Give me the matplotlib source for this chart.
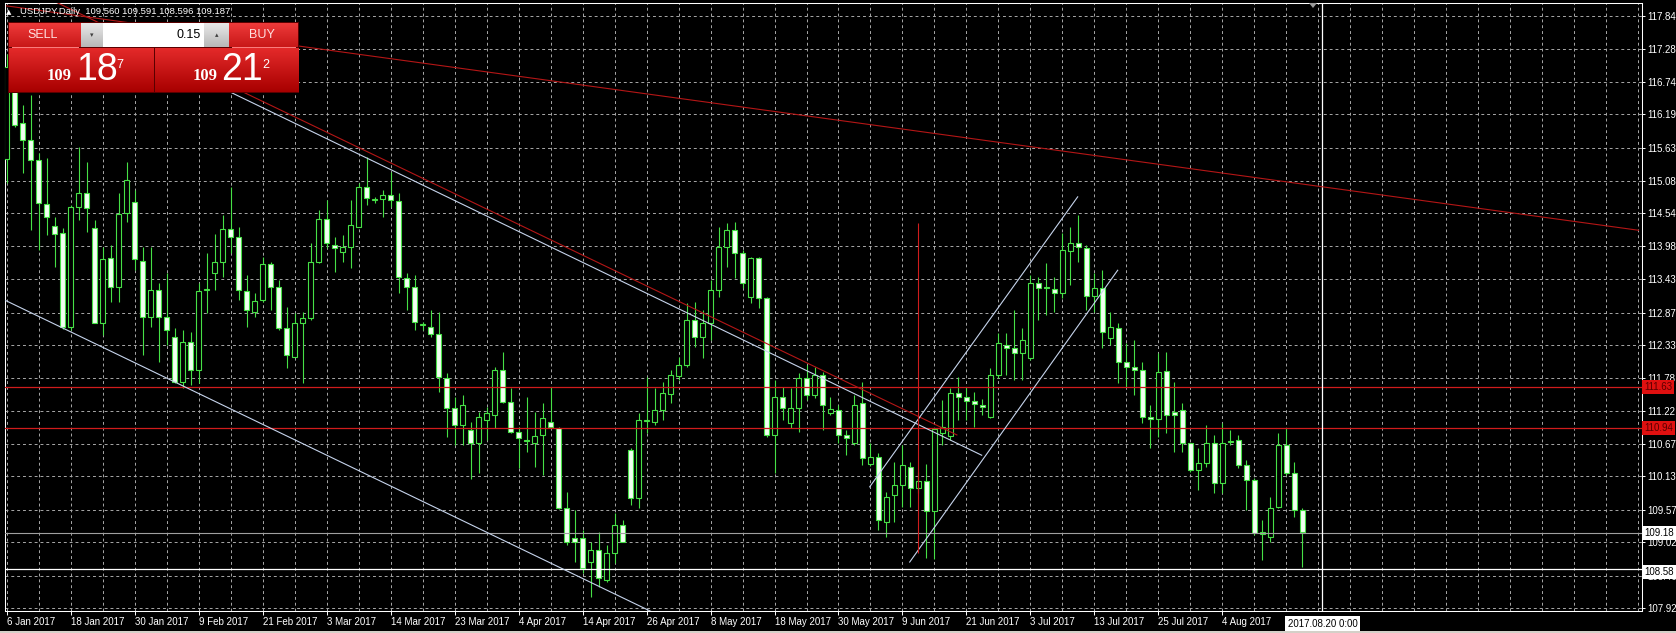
import numpy as np
import matplotlib.pyplot as plt
import matplotlib.colors as mcolors
from matplotlib.patches import Rectangle, Polygon

plt.rcParams['font.family'] = ['Liberation Sans', 'DejaVu Sans']

W, H = 1676, 633

# USDJPY daily bars, 6 Jan 2017 .. 18 Aug 2017 (feed has two short Sunday bars in March)
opens = [115.45, 116.98, 116.05, 115.76, 115.43, 114.69, 114.32, 114.20, 112.63, 114.64,
         114.87, 114.29, 112.70, 113.78, 113.30, 114.54, 114.72, 113.73, 112.80, 113.25,
         112.80, 112.46, 111.71, 112.38, 111.91, 113.25, 113.53, 113.72, 114.27, 114.14,
         113.23, 112.88, 113.08, 113.68, 113.30, 112.61, 112.13, 112.70, 112.78, 113.72,
         114.44, 114.00, 113.88, 113.97, 114.30, 114.97, 114.75, 114.77, 114.84, 114.74,
         113.45, 113.30, 112.66, 112.63, 112.51, 111.77, 111.27, 110.99, 110.90, 110.68,
         111.07, 111.15, 111.91, 111.37, 110.87, 110.74, 110.68, 110.82, 111.04, 110.94,
         109.60, 109.10, 109.10, 108.69, 108.89, 108.39, 108.84, 109.31, 110.57, 109.77,
         111.05, 111.04, 111.24, 111.50, 111.80, 111.99, 112.75, 112.46, 112.70, 113.25,
         113.97, 114.25, 113.87, 113.13, 113.78, 113.11, 110.82, 111.46, 111.02, 111.27,
         111.77, 111.49, 111.83, 111.19, 111.24, 110.82, 110.68, 111.35, 110.34, 110.45,
         109.36, 109.81, 109.98, 110.29, 109.93, 110.05, 109.55, 110.85, 110.80, 111.52,
         111.46, 111.39, 111.32, 111.12, 111.83, 112.33, 112.28, 112.19, 112.11, 113.37,
         113.30, 113.27, 113.20, 113.90, 114.04, 113.95, 113.15, 113.28, 112.45, 112.61,
         112.04, 111.96, 111.91, 111.12, 111.09, 111.89, 111.20, 111.24, 110.69, 110.23,
         110.35, 110.69, 110.02, 110.70, 110.74, 110.32, 110.07, 109.16, 109.11, 109.62,
         110.65, 110.18, 109.56]
highs = [117.20, 117.20, 116.35, 116.52, 115.55, 115.46, 114.47, 114.29, 114.67, 115.65,
         115.40, 114.42, 113.97, 114.00, 114.87, 115.40, 114.92, 113.97, 113.97, 113.37,
         113.53, 112.61, 112.58, 112.55, 113.37, 113.87, 114.19, 114.50, 114.97, 114.30,
         113.50, 113.20, 113.80, 113.72, 113.42, 112.96, 112.86, 112.88, 114.03, 114.59,
         114.76, 114.14, 114.17, 114.76, 115.04, 115.48, 114.81, 114.93, 115.22, 114.87,
         113.53, 113.50, 112.71, 112.91, 112.88, 111.86, 111.46, 111.49, 111.03, 111.20,
         111.29, 111.96, 112.21, 111.61, 110.95, 111.46, 111.20, 111.35, 111.62, 110.95,
         109.87, 109.56, 109.23, 109.02, 109.19, 108.97, 109.51, 109.40, 110.60, 111.19,
         111.79, 111.61, 111.71, 111.91, 112.13, 113.03, 113.05, 112.91, 113.42, 114.30,
         114.37, 114.39, 113.92, 113.80, 113.80, 113.13, 111.74, 111.63, 111.60, 111.86,
         111.99, 111.96, 111.88, 111.46, 111.32, 110.90, 111.49, 111.71, 110.68, 110.52,
         109.87, 110.37, 110.65, 110.37, 110.20, 110.34, 110.94, 111.41, 111.61, 111.79,
         111.62, 111.54, 111.42, 111.94, 112.53, 112.53, 112.91, 112.61, 113.50, 113.47,
         113.70, 113.47, 114.20, 114.30, 114.50, 114.00, 113.53, 113.58, 112.88, 112.70,
         112.36, 112.41, 112.04, 111.32, 112.19, 112.21, 111.71, 111.36, 110.69, 110.60,
         110.99, 110.82, 111.02, 110.90, 110.82, 110.40, 110.10, 109.40, 109.78, 110.85,
         110.94, 110.37, 109.59]
lows = [115.05, 115.98, 115.21, 114.25, 113.92, 114.17, 113.63, 112.60, 112.58, 114.42,
        114.22, 112.70, 112.50, 113.05, 113.05, 114.39, 113.58, 112.16, 112.63, 112.04,
        112.33, 111.69, 111.61, 111.66, 111.69, 112.86, 113.25, 113.47, 113.87, 113.08,
        112.63, 112.80, 113.05, 112.91, 112.58, 111.94, 112.13, 111.69, 112.74, 113.70,
        113.95, 113.55, 113.72, 113.62, 114.30, 114.67, 114.70, 114.47, 114.64, 113.20,
        112.91, 112.58, 112.58, 112.46, 111.54, 110.79, 110.65, 110.65, 110.09, 110.18,
        110.74, 110.94, 111.35, 110.85, 110.27, 110.54, 110.29, 110.15, 110.94, 109.58,
        108.97, 108.69, 108.50, 108.10, 108.27, 108.36, 108.67, 109.02, 109.65, 109.60,
        110.85, 110.99, 111.07, 111.35, 111.74, 111.96, 112.29, 112.11, 112.41, 113.13,
        113.63, 113.45, 113.28, 113.03, 112.94, 110.79, 110.18, 111.07, 110.94, 110.87,
        111.40, 111.44, 110.90, 111.15, 110.68, 110.49, 110.65, 110.31, 110.30, 109.22,
        109.11, 109.36, 109.61, 109.61, 109.85, 108.76, 108.74, 110.65, 110.74, 111.07,
        111.07, 110.95, 111.15, 111.10, 111.78, 111.83, 111.74, 111.74, 112.08, 112.74,
        112.83, 112.88, 113.12, 113.33, 113.72, 112.91, 112.88, 112.28, 112.33, 111.69,
        111.62, 111.49, 111.02, 110.60, 110.79, 110.85, 110.54, 110.54, 110.20, 109.90,
        110.28, 109.85, 109.85, 110.65, 110.27, 109.56, 109.14, 108.73, 109.03, 109.60,
        110.15, 109.44, 108.60]
closes = [116.98, 116.01, 115.76, 115.43, 114.71, 114.47, 114.19, 112.63, 114.64, 114.87,
          114.62, 112.70, 113.77, 113.30, 114.52, 115.09, 113.77, 112.80, 113.25, 112.80,
          112.58, 111.71, 112.38, 111.91, 113.23, 113.27, 113.72, 114.27, 114.14, 113.25,
          112.91, 113.06, 113.68, 113.30, 112.61, 112.16, 112.70, 112.78, 113.72, 114.44,
          114.03, 113.95, 113.97, 114.34, 114.97, 114.79, 114.77, 114.84, 114.76, 113.47,
          113.30, 112.71, 112.66, 112.51, 111.79, 111.27, 110.99, 111.32, 110.68, 111.12,
          111.19, 111.91, 111.37, 110.87, 110.77, 110.72, 110.80, 111.10, 110.95, 109.60,
          109.03, 109.03, 108.59, 108.89, 108.42, 108.84, 109.31, 109.03, 109.77, 111.07,
          111.07, 111.24, 111.52, 111.83, 111.99, 112.75, 112.46, 112.70, 113.25, 113.97,
          114.25, 113.87, 113.37, 113.78, 113.11, 110.82, 111.46, 111.27, 111.27, 111.77,
          111.49, 111.83, 111.32, 111.25, 110.82, 110.77, 111.32, 110.43, 110.45, 109.39,
          109.78, 109.98, 110.32, 109.93, 110.05, 109.55, 110.92, 110.95, 111.52, 111.46,
          111.39, 111.34, 111.29, 111.83, 112.36, 112.28, 112.19, 112.41, 113.37, 113.28,
          113.28, 113.20, 113.92, 114.04, 113.97, 113.15, 113.28, 112.55, 112.63, 112.04,
          111.96, 111.91, 111.12, 111.09, 111.88, 111.15, 111.15, 110.69, 110.23, 110.35,
          110.69, 110.02, 110.69, 110.71, 110.32, 110.07, 109.18, 109.19, 109.60, 110.65,
          110.18, 109.56, 109.19]

date_labels = ['6 Jan 2017', '18 Jan 2017', '30 Jan 2017', '9 Feb 2017', '21 Feb 2017',
               '3 Mar 2017', '14 Mar 2017', '23 Mar 2017', '4 Apr 2017', '14 Apr 2017',
               '26 Apr 2017', '8 May 2017', '18 May 2017', '30 May 2017', '9 Jun 2017',
               '21 Jun 2017', '3 Jul 2017', '13 Jul 2017', '25 Jul 2017', '4 Aug 2017']
price_ticks = [117.84, 117.28, 116.74, 116.19, 115.63, 115.08, 114.54, 113.98, 113.43, 112.87,
               112.33, 111.78, 111.22, 110.67, 110.13, 109.57, 109.02, 108.46, 107.92]

level_lines = [111.63, 110.94]
bid_price = 109.18
cross_price = 108.58
cross_bar = 164.5
cross_label = '2017.08.20 0:00'

# drawn objects as (bar index, price) end points
red_long = ([0, 204], [118.01, 114.25])
red_steep = ([5.6, 118.8], [118.11, 110.82])
chan_down_top = ([27.9, 121.9], [116.57, 110.48])
chan_down_bot = ([-1, 82], [113.13, 107.77])
chan_up_top = ([107.9, 133.9], [109.95, 114.81])
chan_up_bot = ([112.9, 138.9], [108.69, 113.58])
red_vline = (114.0, 108.84, 114.37)

GREEN = '#46e046'
GRID = '#a8a8a8'
RED = '#d01c1c'
DRED = '#b41616'
LIGHT = '#c6d4ec'

fig = plt.figure(figsize=(W / 100, H / 100), dpi=100, facecolor='black')
ax = fig.add_axes([5 / W, 22 / H, 1637 / W, 608 / H], facecolor='black')

o = np.array(opens); hi = np.array(highs); lo = np.array(lows); c = np.array(closes)
x = np.arange(len(o))
up = c >= o
body_lo = np.minimum(o, c)
body_h = np.maximum(np.abs(c - o), 0.012)

ax.vlines(x, lo, hi, color=GREEN, lw=0.8, zorder=3)
ax.bar(x[up], body_h[up], bottom=body_lo[up], width=0.58, facecolor='black',
       edgecolor=GREEN, lw=0.8, zorder=3.5)
ax.bar(x[~up], body_h[~up], bottom=body_lo[~up], width=0.58, facecolor='#f2fff2',
       edgecolor=GREEN, lw=0.8, zorder=3.5)

# objects
for p in level_lines:
    ax.axhline(p, color=RED, lw=0.9, zorder=4)
ax.axhline(bid_price, color='#a0a0a0', lw=0.8, zorder=4)
ax.axhline(cross_price, color='white', lw=0.9, zorder=4)
ax.axvline(cross_bar, color='white', lw=0.9, zorder=4)
ax.plot(*red_long, color=DRED, lw=0.8, zorder=4)
ax.plot(*red_steep, color=DRED, lw=0.8, zorder=4)
for ln in (chan_down_top, chan_down_bot, chan_up_top, chan_up_bot):
    ax.plot(*ln, color=LIGHT, lw=0.8, zorder=4)
ax.vlines(red_vline[0], red_vline[1], red_vline[2], color=RED, lw=0.8, zorder=4)

ax.set_xlim(-0.19, 204.44)
ax.set_ylim(107.87, 118.058)

# grid and axes
ax.set_axisbelow(True)
ax.set_xticks(np.arange(0, 205, 4), minor=True)
ax.set_xticks(np.arange(0, 8 * len(date_labels), 8))
ax.set_xticklabels(date_labels)
for t in ax.get_xticklabels():
    t.set_ha('left')
ax.yaxis.tick_right()
ax.set_yticks(price_ticks)
ax.set_yticklabels([f'{p:.2f}' for p in price_ticks])
ax.grid(True, which='both', axis='x', color=GRID, lw=0.7, ls=(0, (3, 3)))
ax.grid(True, which='major', axis='y', color=GRID, lw=0.7, ls=(0, (3, 3)))
ax.tick_params(axis='x', which='minor', length=0)
ax.tick_params(axis='x', which='major', length=3, width=0.7, color='white',
               labelcolor='white', labelsize=7, pad=1.5)
ax.tick_params(axis='y', length=2.5, width=0.7, color='white', labelcolor='white',
               labelsize=7, pad=1.5)
for s in ax.spines.values():
    s.set_color('white')
    s.set_linewidth(0.75)

# price labels of the line objects
box = dict(boxstyle='square,pad=0.2', ec='none')
for p in level_lines:
    ax.annotate(f'{p:.2f}', xy=(1, p), xycoords=ax.get_yaxis_transform(), xytext=(1.5, 0),
                textcoords='offset points', va='center', ha='left', fontsize=7, color='#5a0000',
                bbox=dict(box, fc='#e01010'), annotation_clip=False, zorder=6)
ax.annotate(f'{bid_price:.2f}', xy=(1, bid_price), xycoords=ax.get_yaxis_transform(), xytext=(1.5, 0),
            textcoords='offset points', va='center', ha='left', fontsize=7, color='black',
            bbox=dict(box, fc='white'), annotation_clip=False, zorder=6)
ax.annotate(f'{cross_price:.2f}', xy=(1, cross_price), xycoords=ax.get_yaxis_transform(), xytext=(1.5, -2.5),
            textcoords='offset points', va='center', ha='left', fontsize=7, color='black',
            bbox=dict(box, fc='white'), annotation_clip=False, zorder=6)
ax.annotate(cross_label, xy=(cross_bar, 0), xycoords=ax.get_xaxis_transform(), xytext=(0, -5.5),
            textcoords='offset points', va='top', ha='center', fontsize=7, color='black',
            bbox=dict(boxstyle='square,pad=0.25', fc='white', ec='none'), annotation_clip=False, zorder=6)

# overlay in pixel units: header, trade panel, frame
ui = fig.add_axes([0, 0, 1, 1])
ui.set_facecolor('none')
ui.axis('off')


def grad(x0, x1, y0, y1, top, bot, z=10):
    g = np.linspace(0, 1, 64)[:, None, None]
    c0 = np.array(mcolors.to_rgb(top)); c1 = np.array(mcolors.to_rgb(bot))
    img = c0 + (c1 - c0) * g
    ui.imshow(img, extent=(x0, x1, y1, y0), aspect='auto', interpolation='bilinear', zorder=z)


ui.text(6, 12, '\u25b2', fontsize=5, color='white', va='center', ha='left',
        family=['DejaVu Sans'])
ui.text(20, 12, 'USDJPY,Daily  109.560 109.591 108.596 109.187', fontsize=6.8,
        color='white', va='center', ha='left')

ui.add_patch(Rectangle((8, 22), 291, 71, fc='#5a0000', ec='none', zorder=9))
grad(9, 81, 23, 47, '#ee3a3a', '#c81818')
grad(229, 298, 23, 47, '#ee3a3a', '#c81818')
grad(9, 153, 48, 92, '#e42a2a', '#a80000')
grad(155, 298, 48, 92, '#e42a2a', '#a80000')
ui.plot([12, 78], [46.5, 46.5], color='#ff8080', lw=0.7, zorder=11)
ui.plot([232, 295], [46.5, 46.5], color='#ff8080', lw=0.7, zorder=11)
grad(81, 103, 23, 47, '#e8e8e8', '#b8b8b8')
ui.add_patch(Rectangle((103, 23), 101, 24, fc='white', ec='none', zorder=10))
grad(204, 229, 23, 47, '#e8e8e8', '#b8b8b8')
ui.text(92, 35, '\u25be', fontsize=5, color='#404040', ha='center', va='center',
        family=['DejaVu Sans'], zorder=12)
ui.text(216.5, 35, '\u25b4', fontsize=5, color='#404040', ha='center', va='center',
        family=['DejaVu Sans'], zorder=12)
ui.text(201, 35, '0.15', fontsize=9, color='black', ha='right', va='center', zorder=12)
ui.text(43, 35, 'SELL', fontsize=9, color='#ffe0e0', ha='center', va='center', zorder=12)
ui.text(262, 35, 'BUY', fontsize=9, color='#ffe0e0', ha='center', va='center', zorder=12)

for x_small, x_big, x_sup, big, sup in ((47, 76, 116, '18', '7'), (193, 221, 262, '21', '2')):
    ui.text(x_small, 80, '109', fontsize=12, fontweight='bold', color='white',
            family=['Liberation Serif'], ha='left', va='baseline', zorder=12)
    ui.text(x_big, 80, big, fontsize=27, color='white', ha='left', va='baseline', zorder=12)
    ui.text(x_sup, 68, sup, fontsize=9, color='white', ha='left', va='baseline', zorder=12)

ui.add_patch(Polygon([(1309, 3), (1317, 3), (1313, 8)], closed=True, fc='#9a9a9a',
                     ec='none', zorder=12))
ui.add_patch(Rectangle((0, 630.5), W, 2.5, fc='#d4d0c8', ec='none', zorder=12))

ui.set_xlim(0, W)
ui.set_ylim(H, 0)

fig.savefig('out.png', dpi=100, facecolor='black')
